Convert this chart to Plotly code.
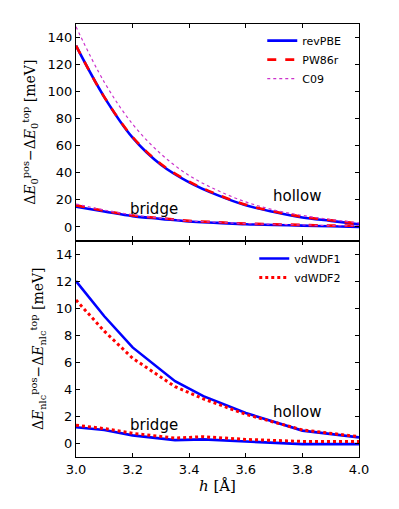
import plotly.graph_objects as go
from plotly.subplots import make_subplots

# ---- data: top panel (Delta E0) ----
h_top = [3.0, 3.1, 3.2, 3.3, 3.4, 3.5, 3.6, 3.7, 3.8, 3.9, 4.0]
revPBE_hollow = [134, 96, 66, 46, 33, 23.5, 16, 11, 7, 4.5, 2]
PW86r_hollow = [134, 96, 66.5, 46.5, 33.5, 24, 16.5, 11.5, 7.5, 5, 2.5]
C09_hollow = [148, 107, 76, 54, 38, 27, 18.5, 12.5, 8.5, 5.5, 3]
revPBE_bridge = [15, 11.5, 8, 6, 4, 3, 2, 1.5, 1, 0.5, 0]
PW86r_bridge = [16, 12, 8.5, 6.5, 4.5, 3.5, 2.5, 2, 1.5, 1, 1]
C09_bridge = [17, 12.5, 9, 6.5, 4.5, 3.5, 2.5, 2, 1.5, 1, 1]

# ---- data: bottom panel (Delta E_nlc) ----
h_nlc = [3.0, 3.1, 3.2, 3.35, 3.45, 3.6, 3.8, 4.0]
vdWDF1_hollow = [12.0, 9.4, 7.1, 4.6, 3.5, 2.25, 0.95, 0.45]
vdWDF2_hollow = [10.6, 8.3, 6.3, 4.2, 3.3, 2.15, 1.0, 0.5]
vdWDF1_bridge = [1.2, 1.0, 0.6, 0.25, 0.3, 0.15, -0.05, -0.05]
vdWDF2_bridge = [1.35, 1.1, 0.75, 0.4, 0.5, 0.3, 0.15, 0.15]

xticks = [3.0, 3.2, 3.4, 3.6, 3.8, 4.0]
yticks_top = [0, 20, 40, 60, 80, 100, 120, 140]
yticks_bot = [0, 2, 4, 6, 8, 10, 12, 14]

BLUE = "#0000ff"
RED = "#ff0000"
MAG = "#cc33cc"

fig = make_subplots(rows=2, cols=1, shared_xaxes=True, vertical_spacing=0)

def add(x, y, color, dash, width, name, row, legend, show, shape):
    fig.add_trace(go.Scatter(x=x, y=y, mode="lines", name=name,
                             line=dict(color=color, dash=dash, width=width,
                                       shape=shape, smoothing=1.0),
                             legend=legend, showlegend=show), row=row, col=1)

add(h_top, revPBE_hollow, BLUE, "solid", 2.6, "revPBE", 1, "legend", True, "spline")
add(h_top, PW86r_hollow, RED, "dash", 2.6, "PW86r", 1, "legend", True, "spline")
add(h_top, C09_hollow, MAG, "dot", 1.2, "C09", 1, "legend", True, "spline")
add(h_top, revPBE_bridge, BLUE, "solid", 2.6, "revPBE", 1, "legend", False, "spline")
add(h_top, PW86r_bridge, RED, "dash", 2.6, "PW86r", 1, "legend", False, "spline")
add(h_top, C09_bridge, MAG, "dot", 1.2, "C09", 1, "legend", False, "spline")

add(h_nlc, vdWDF1_hollow, BLUE, "solid", 2.6, "vdWDF1", 2, "legend2", True, "linear")
add(h_nlc, vdWDF2_hollow, RED, "dot", 3, "vdWDF2", 2, "legend2", True, "linear")
add(h_nlc, vdWDF1_bridge, BLUE, "solid", 2.6, "vdWDF1", 2, "legend2", False, "linear")
add(h_nlc, vdWDF2_bridge, RED, "dot", 3, "vdWDF2", 2, "legend2", False, "linear")

axis_common = dict(showline=True, linecolor="black", linewidth=1.2, mirror="ticks",
                   ticks="inside", ticklen=4, tickcolor="black", tickwidth=1,
                   showgrid=False, zeroline=False, automargin=False,
                   tickfont=dict(family="DejaVu Sans", size=13, color="black"))

fig.update_xaxes(range=[3.0, 4.0], tickvals=xticks,
                 ticktext=[f"{v:.1f}" for v in xticks], **axis_common)
fig.update_xaxes(showticklabels=False, row=1, col=1)
fig.update_xaxes(title=dict(text="<i>h</i> [Å]", standoff=4,
                            font=dict(family="DejaVu Serif", size=15, color="black")),
                 row=2, col=1)

fig.update_yaxes(range=[-10, 150], tickvals=yticks_top, row=1, col=1, **axis_common,
                 title=dict(text="Δ<i>E</i><sub>0</sub><sup>pos</sup>−Δ<i>E</i><sub>0</sub><sup>top</sup> [meV]",
                            standoff=8, font=dict(family="DejaVu Serif", size=14, color="black")))
fig.update_yaxes(range=[-1, 15], tickvals=yticks_bot, row=2, col=1, **axis_common,
                 title=dict(text="Δ<i>E</i><sub>nlc</sub><sup>pos</sup>−Δ<i>E</i><sub>nlc</sub><sup>top</sup> [meV]",
                            standoff=8, font=dict(family="DejaVu Serif", size=14, color="black")))

lab_font = dict(family="DejaVu Sans", size=15, color="black")
fig.add_annotation(x=3.275, y=13.4, text="bridge", showarrow=False, font=lab_font, xref="x", yref="y")
fig.add_annotation(x=3.78, y=23, text="hollow", showarrow=False, font=lab_font, xref="x", yref="y")
fig.add_annotation(x=3.275, y=1.4, text="bridge", showarrow=False, font=lab_font, xref="x2", yref="y2")
fig.add_annotation(x=3.78, y=2.3, text="hollow", showarrow=False, font=lab_font, xref="x2", yref="y2")

leg_common = dict(bgcolor="rgba(0,0,0,0)", borderwidth=0,
                  font=dict(family="DejaVu Sans", size=11, color="black"),
                  xanchor="right", yanchor="top", tracegroupgap=0, itemwidth=30)
# page body has an 8px default margin, so plot margins are offset by 8px
fig.update_layout(
    width=399, height=509,
    margin=dict(l=68, r=48, t=16, b=60),
    paper_bgcolor="white", plot_bgcolor="white",
    legend=dict(x=0.955, y=0.995, **leg_common),
    legend2=dict(x=0.955, y=0.492, **leg_common),
)

fig.write_html("out.html")
